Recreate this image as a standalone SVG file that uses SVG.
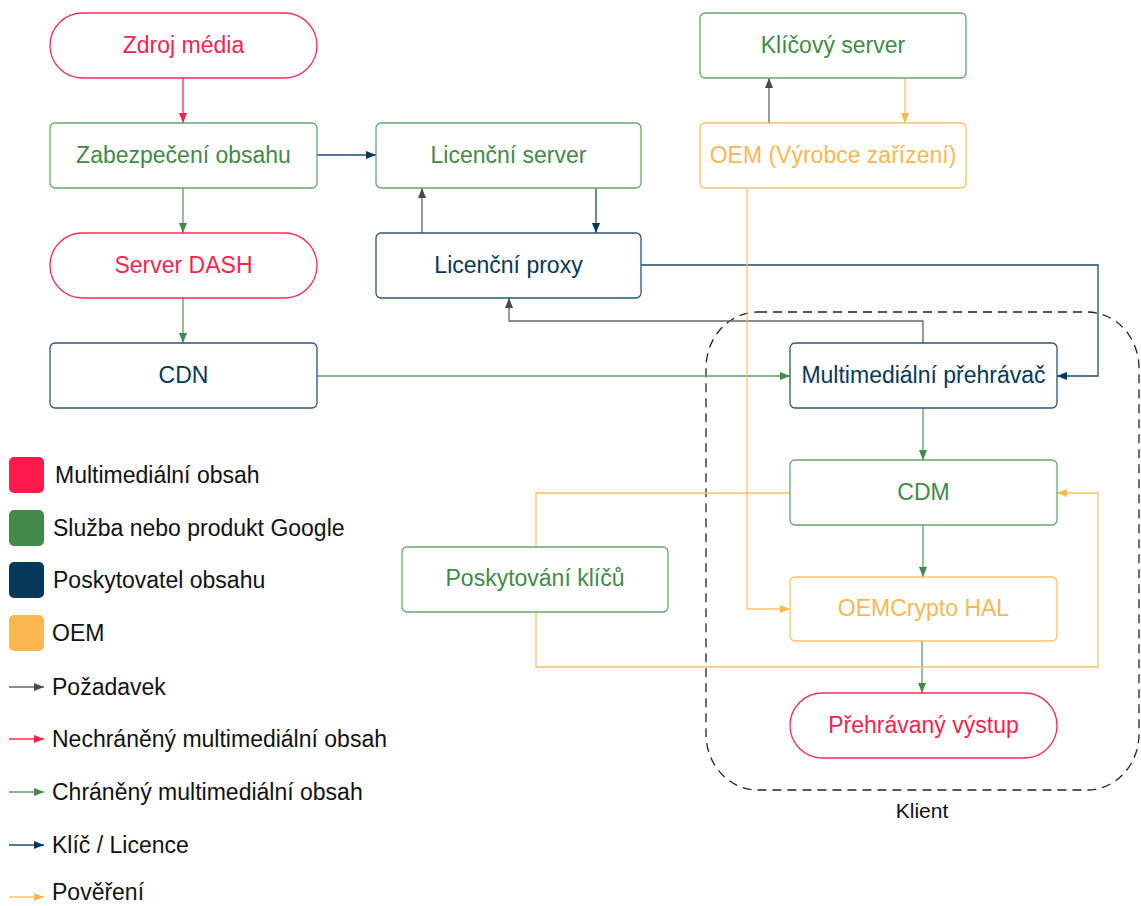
<svg xmlns="http://www.w3.org/2000/svg" width="1141" height="906" viewBox="0 0 1141 906">
  <style>
    text { font-family: "Liberation Sans", Arial, sans-serif; }
    .lbl { font-size: 23px; text-anchor: middle; }
    .leg { font-size: 23px; fill: #111; }
    .box { fill: #fff; stroke-width: 1.3; }
    .red { stroke: #ff2a55; }
    .grn { stroke: #6aa56e; }
    .nav { stroke: #2d5578; }
    .org { stroke: #fcc16a; }
    .t-red { fill: #ff1f4d; }
    .t-grn { fill: #43894a; }
    .t-nav { fill: #06385a; }
    .t-org { fill: #fbb850; }
    .c { fill: none; stroke-width: 1.3; }
    .c-red { stroke: #ff2a55; marker-end: url(#a-red); }
    .c-grn { stroke: #5f9e64; marker-end: url(#a-grn); }
    .c-nav { stroke: #1d4a6e; marker-end: url(#a-nav); }
    .c-gry { stroke: #666; marker-end: url(#a-gry); }
    .c-org { stroke: #fcc16a; marker-end: url(#a-org); }
  </style>
  <defs>
    <marker id="a-red" viewBox="0 0 10 10" refX="10" refY="5" markerWidth="10" markerHeight="10" markerUnits="userSpaceOnUse" orient="auto"><path d="M0,1 L10,5 L0,9z" fill="#ff1f4d"/></marker>
    <marker id="a-grn" viewBox="0 0 10 10" refX="10" refY="5" markerWidth="10" markerHeight="10" markerUnits="userSpaceOnUse" orient="auto"><path d="M0,1 L10,5 L0,9z" fill="#43894a"/></marker>
    <marker id="a-nav" viewBox="0 0 10 10" refX="10" refY="5" markerWidth="10" markerHeight="10" markerUnits="userSpaceOnUse" orient="auto"><path d="M0,1 L10,5 L0,9z" fill="#06385a"/></marker>
    <marker id="a-gry" viewBox="0 0 10 10" refX="10" refY="5" markerWidth="10" markerHeight="10" markerUnits="userSpaceOnUse" orient="auto"><path d="M0,1 L10,5 L0,9z" fill="#4a4a4a"/></marker>
    <marker id="a-org" viewBox="0 0 10 10" refX="10" refY="5" markerWidth="10" markerHeight="10" markerUnits="userSpaceOnUse" orient="auto"><path d="M0,1 L10,5 L0,9z" fill="#fbb850"/></marker>
  </defs>
  <rect width="1141" height="906" fill="#fff"/>

  <!-- client boundary -->
  <g id="client">
    <rect x="706" y="312" width="433" height="478" rx="52" ry="56" fill="none" stroke="#222" stroke-width="1.3" stroke-dasharray="9,6"/>
    <text x="922" y="818" font-size="21" text-anchor="middle" fill="#111">Klient</text>
  </g>

  <!-- connectors -->
  <g id="connectors">
    <path class="c c-red" d="M183,78 V123"/>
    <path class="c c-grn" d="M183,188 V233"/>
    <path class="c c-grn" d="M183,298 V343"/>
    <path class="c c-nav" d="M317,155 H376"/>
    <path class="c c-gry" d="M422,233 V188"/>
    <path class="c c-nav" d="M596,188 V233"/>
    <path class="c c-gry" d="M923,343 V321 H509 V298"/>
    <path class="c c-nav" d="M641,265 H1098 V376 H1057"/>
    <path class="c c-grn" d="M317,376 H790"/>
    <path class="c c-grn" d="M923,408 V460"/>
    <path class="c c-grn" d="M923,525 V577"/>
    <path class="c c-grn" d="M922,641 V693"/>
    <path class="c c-gry" d="M769,123 V78"/>
    <path class="c c-org" d="M905,78 V123"/>
    <path class="c c-org" d="M747,188 V609 H790"/>
    <path class="c" stroke="#fcc16a" d="M790,493 H536 V547"/>
    <path class="c c-org" d="M536,612 V667 H1098 V493 H1057"/>
  </g>

  <!-- nodes -->
  <g id="zdroj-media">
    <rect class="box red" x="50" y="13" width="267" height="65" rx="32.5"/>
    <text class="lbl t-red" x="183.5" y="53">Zdroj média</text>
  </g>
  <g id="zabezpeceni-obsahu">
    <rect class="box grn" x="50" y="123" width="267" height="65" rx="5"/>
    <text class="lbl t-grn" x="183.5" y="163">Zabezpečení obsahu</text>
  </g>
  <g id="server-dash">
    <rect class="box red" x="50" y="233" width="267" height="65" rx="32.5"/>
    <text class="lbl t-red" x="183.5" y="273">Server DASH</text>
  </g>
  <g id="cdn">
    <rect class="box nav" x="50" y="343" width="267" height="65" rx="5"/>
    <text class="lbl t-nav" x="183.5" y="383">CDN</text>
  </g>
  <g id="licencni-server">
    <rect class="box grn" x="376" y="123" width="265" height="65" rx="5"/>
    <text class="lbl t-grn" x="508.5" y="163">Licenční server</text>
  </g>
  <g id="licencni-proxy">
    <rect class="box nav" x="376" y="233" width="265" height="65" rx="5"/>
    <text class="lbl t-nav" x="508.5" y="273">Licenční proxy</text>
  </g>
  <g id="klicovy-server">
    <rect class="box grn" x="700" y="13" width="266" height="65" rx="5"/>
    <text class="lbl t-grn" x="833" y="53">Klíčový server</text>
  </g>
  <g id="oem">
    <rect class="box org" x="700" y="123" width="266" height="65" rx="5"/>
    <text class="lbl t-org" x="833" y="163">OEM (Výrobce zařízení)</text>
  </g>
  <g id="multimedialni-prehravac">
    <rect class="box nav" x="790" y="343" width="267" height="65" rx="5"/>
    <text class="lbl t-nav" x="923.5" y="383">Multimediální přehrávač</text>
  </g>
  <g id="cdm">
    <rect class="box grn" x="790" y="460" width="267" height="65" rx="5"/>
    <text class="lbl t-grn" x="923.5" y="500">CDM</text>
  </g>
  <g id="poskytovani-klicu">
    <rect class="box grn" x="402" y="547" width="266" height="65" rx="5"/>
    <text class="lbl t-grn" x="535" y="586">Poskytování klíčů</text>
  </g>
  <g id="oemcrypto-hal">
    <rect class="box org" x="790" y="577" width="267" height="64" rx="5"/>
    <text class="lbl t-org" x="923.5" y="616">OEMCrypto HAL</text>
  </g>
  <g id="prehravany-vystup">
    <rect class="box red" x="790" y="693" width="267" height="65" rx="32.5"/>
    <text class="lbl t-red" x="923.5" y="733">Přehrávaný výstup</text>
  </g>

  <!-- legend -->
  <g id="legend">
    <rect x="9" y="457" width="35" height="36" rx="5" fill="#ff1a4b"/>
    <text class="leg" x="55" y="483">Multimediální obsah</text>
    <rect x="9" y="510" width="35" height="36" rx="5" fill="#43894a"/>
    <text class="leg" x="53" y="536">Služba nebo produkt Google</text>
    <rect x="9" y="562" width="35" height="36" rx="5" fill="#06385a"/>
    <text class="leg" x="53" y="588">Poskytovatel obsahu</text>
    <rect x="9" y="615" width="35" height="36" rx="5" fill="#fbb850"/>
    <text class="leg" x="52" y="641">OEM</text>
    <path class="c c-gry" d="M9,687 H44"/>
    <text class="leg" x="52" y="695">Požadavek</text>
    <path class="c c-red" d="M9,739 H44"/>
    <text class="leg" x="52" y="747">Nechráněný multimediální obsah</text>
    <path class="c c-grn" d="M9,792 H44"/>
    <text class="leg" x="52" y="800">Chráněný multimediální obsah</text>
    <path class="c c-nav" d="M9,845 H44"/>
    <text class="leg" x="52" y="853">Klíč / Licence</text>
    <path class="c c-org" d="M9,897 H44"/>
    <text class="leg" x="52" y="900" font-size="22">Pověření</text>
  </g>
</svg>
